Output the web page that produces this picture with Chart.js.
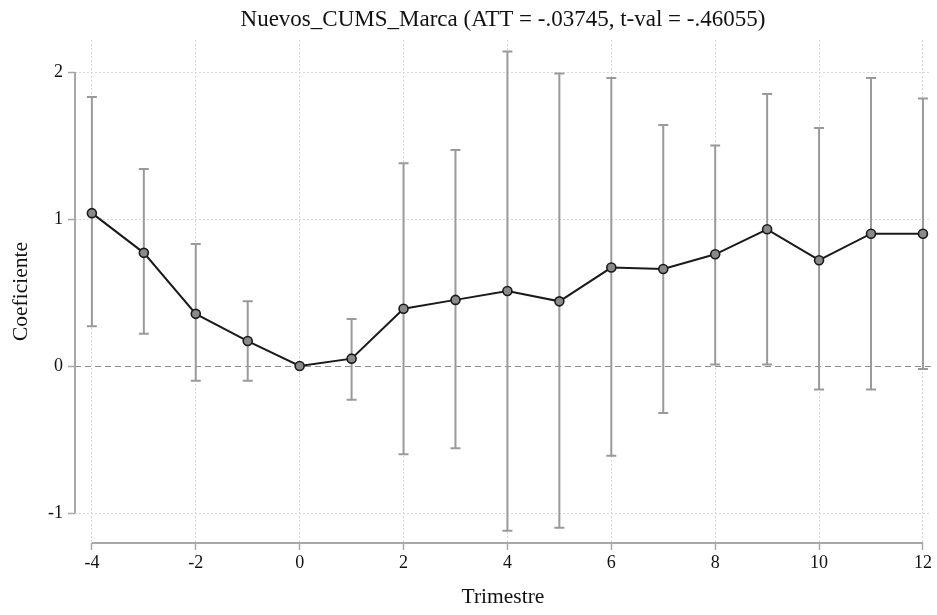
<!DOCTYPE html>
<html>
<head>
<meta charset="utf-8">
<title>Nuevos_CUMS_Marca</title>
<script src="https://cdn.jsdelivr.net/npm/chart.js@4/dist/chart.umd.min.js"></script>
<style>
    html, body { margin: 0; padding: 0; background: #fff; }
    #wrap { width: 937px; height: 615px; position: relative; }
</style>
</head>
<body>
<div id="wrap"><canvas id="eventChart"></canvas></div>
<script>
// Event-study estimates
const periods   = [-4, -3, -2, -1, 0, 1, 2, 3, 4, 5, 6, 7, 8, 9, 10, 11, 12];
const coefs     = [1.04, 0.77, 0.355, 0.17, 0, 0.05, 0.39, 0.45, 0.51, 0.44, 0.67, 0.66, 0.76, 0.93, 0.72, 0.90, 0.90];
const ciUpper   = [1.83, 1.34, 0.83, 0.44, null, 0.32, 1.38, 1.47, 2.14, 1.99, 1.96, 1.64, 1.50, 1.85, 1.62, 1.96, 1.82];
const ciLower   = [0.27, 0.22, -0.10, -0.10, null, -0.23, -0.60, -0.56, -1.12, -1.10, -0.61, -0.32, 0.01, 0.01, -0.16, -0.16, -0.02];
const xTicks    = [-4, -2, 0, 2, 4, 6, 8, 10, 12];
const yTicks    = [-1, 0, 1, 2];

const titleText = 'Nuevos_CUMS_Marca (ATT = -.03745, t-val = -.46055)';
const serif = '"Liberation Serif", "DejaVu Serif", serif';

// error bars (rcap) drawn under the connected line
const errorBars = {
    id: 'errorBars',
    beforeDatasetsDraw(chart) {
        const { ctx, scales: { x, y } } = chart;
        ctx.save();
        ctx.strokeStyle = '#9a9a9a';
        ctx.lineWidth = 2;
        periods.forEach((p, i) => {
            if (ciUpper[i] === null) return;
            const px = x.getPixelForValue(p);
            const top = y.getPixelForValue(ciUpper[i]);
            const bot = y.getPixelForValue(ciLower[i]);
            ctx.beginPath();
            ctx.moveTo(px, top); ctx.lineTo(px, bot);
            ctx.moveTo(px - 5, top); ctx.lineTo(px + 5, top);
            ctx.moveTo(px - 5, bot); ctx.lineTo(px + 5, bot);
            ctx.stroke();
        });
        ctx.restore();
    }
};

// Stata-like axis lines spanning only the tick range, plus the title
const frame = {
    id: 'frame',
    afterDraw(chart) {
        const { ctx, chartArea, scales: { x, y } } = chart;
        ctx.save();
        ctx.strokeStyle = '#a8a8a8';
        ctx.lineWidth = 2;
        ctx.beginPath();
        ctx.moveTo(chartArea.left, y.getPixelForValue(yTicks[yTicks.length - 1]));
        ctx.lineTo(chartArea.left, y.getPixelForValue(yTicks[0]));
        ctx.moveTo(x.getPixelForValue(xTicks[0]), chartArea.bottom);
        ctx.lineTo(x.getPixelForValue(xTicks[xTicks.length - 1]), chartArea.bottom);
        ctx.stroke();

        ctx.fillStyle = '#111';
        ctx.font = '23px ' + serif;
        ctx.textAlign = 'center';
        ctx.textBaseline = 'middle';
        ctx.fillText(titleText, (chartArea.left + chartArea.right) / 2, 20);
        ctx.restore();
    }
};

const isZero = (c) => c.tick && c.tick.value === 0;

const ctx = document.getElementById('eventChart').getContext('2d');
new Chart(ctx, {
    type: 'line',
    data: {
        datasets: [{
            label: 'Coeficiente',
            data: periods.map((p, i) => ({ x: p, y: coefs[i] })),
            borderColor: '#1a1a1a',
            borderWidth: 2,
            tension: 0,
            pointRadius: 4.5,
            pointBackgroundColor: '#8a8a8a',
            pointBorderColor: '#1a1a1a',
            pointBorderWidth: 1.6
        }]
    },
    options: {
        responsive: true,
        maintainAspectRatio: false,
        animation: false,
        layout: { padding: { top: 40, right: 0, left: 0, bottom: 0 } },
        plugins: {
            legend: { display: false },
            tooltip: { enabled: false }
        },
        scales: {
            x: {
                type: 'linear',
                min: -4.325,
                max: 12.153,
                afterBuildTicks: (axis) => { axis.ticks = xTicks.map(v => ({ value: v })); },
                afterFit: (axis) => { axis.height = 72; },
                border: { display: false, dash: [2, 2] },
                grid: {
                    color: '#d8d8d8',
                    tickColor: '#a8a8a8',
                    tickLength: 7,
                    tickWidth: 1.5
                },
                ticks: {
                    color: '#111',
                    padding: 2,
                    maxRotation: 0,
                    font: { family: serif, size: 18 }
                },
                title: {
                    display: true,
                    text: 'Trimestre',
                    color: '#111',
                    padding: { top: 2, bottom: 5 },
                    font: { family: serif, size: 21.5 }
                }
            },
            y: {
                type: 'linear',
                min: -1.204,
                max: 2.218,
                afterBuildTicks: (axis) => { axis.ticks = yTicks.map(v => ({ value: v })); },
                afterFit: (axis) => { axis.width = 75; },
                border: {
                    display: false,
                    dash: (c) => isZero(c) ? [6, 4] : [2, 2]
                },
                grid: {
                    color: (c) => isZero(c) ? '#8c8c8c' : '#d8d8d8',
                    lineWidth: 1,
                    tickColor: '#a8a8a8',
                    tickLength: 7,
                    tickWidth: 1.5
                },
                ticks: {
                    color: '#111',
                    padding: 5,
                    font: { family: serif, size: 18 }
                },
                title: {
                    display: true,
                    text: 'Coeficiente',
                    color: '#111',
                    padding: { top: 8, bottom: 2 },
                    font: { family: serif, size: 21.5 }
                }
            }
        }
    },
    plugins: [errorBars, frame]
});
</script>
</body>
</html>
